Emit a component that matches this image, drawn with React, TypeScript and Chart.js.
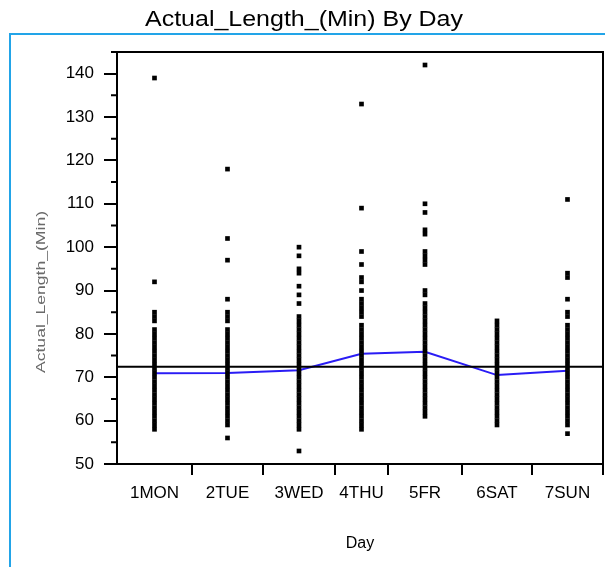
import React, { useEffect, useRef } from 'react';
import { Chart, registerables } from 'chart.js';

Chart.register(...registerables);

// ---------- data ----------
const chartTitle = 'Actual_Length_(Min) By Day';
const yAxisTitle = 'Actual_Length_(Min)';
const xAxisTitle = 'Day';

const dayLabels = ['1MON', '2TUE', '3WED', '4THU', '5FR', '6SAT', '7SUN'];
// relative width of each day's band on the x axis (JMP draws them proportional to group size)
const dayWidths = [75, 71, 72, 53, 74, 70, 71];

const monValues = [139, 92, 85, 84, 83, 81, 80, 79, 78, 77, 76, 75, 74, 73, 72, 71, 70, 69, 68, 67, 66, 65, 64, 63, 62, 61, 60, 59, 58];
const tueValues = [118, 102, 97, 88, 85, 84, 83, 81, 80, 79, 78, 77, 76, 75, 74, 73, 72, 71, 70, 69, 68, 67, 66, 65, 64, 63, 62, 61, 60, 59, 56];
const wedValues = [100, 98, 95, 94, 91, 89, 87, 84, 83, 82, 81, 80, 79, 78, 77, 76, 75, 74, 73, 72, 71, 70, 69, 68, 67, 66, 65, 64, 63, 62, 61, 60, 59, 58, 53];
const thuValues = [133, 109, 99, 96, 93, 92, 90, 88, 87, 86, 85, 84, 82, 81, 80, 79, 78, 77, 76, 75, 74, 73, 72, 71, 70, 69, 68, 67, 66, 65, 64, 63, 62, 61, 60, 59, 58];
const friValues = [142, 110, 108, 104, 103, 99, 98, 97, 96, 90, 89, 87, 86, 85, 84, 83, 82, 81, 80, 79, 78, 77, 76, 75, 74, 73, 72, 71, 70, 69, 68, 67, 66, 65, 64, 63, 62, 61];
const satValues = [83, 82, 81, 80, 79, 78, 77, 76, 75, 74, 73, 72, 71, 70, 69, 68, 67, 66, 65, 64, 63, 62, 61, 60, 59];
const sunValues = [111, 94, 93, 88, 85, 84, 82, 81, 80, 79, 78, 77, 76, 75, 74, 73, 72, 71, 70, 69, 68, 67, 66, 65, 64, 63, 62, 61, 60, 59, 57];

const dayValues = [monValues, tueValues, wedValues, thuValues, friValues, satValues, sunValues];
const dayMeans = [70.9, 71.0, 71.6, 75.4, 75.9, 70.5, 71.5];
const grandMean = 72.4;

const yMin = 50;
const yMax = 145;
const yMinorStep = 5;
const yMajorStep = 10;

// ---------- derived ----------
const boundaries: number[] = [0];
dayWidths.forEach((w, i) => boundaries.push(boundaries[i] + w));
const centers = dayWidths.map((w, i) => boundaries[i] + w / 2);
const xTotal = boundaries[boundaries.length - 1];
const xTickValues = [...boundaries, ...centers].sort((a, b) => a - b);

const near = (a: number, b: number) => Math.abs(a - b) < 1e-6;
const labelFor = (v: number) => {
  const i = centers.findIndex((c) => near(c, v));
  return i >= 0 ? dayLabels[i] : '';
};
const isBoundary = (v: number) => boundaries.some((b) => near(b, v)) && !near(v, 0);

const FONT = '"Liberation Sans", Arial, Helvetica, sans-serif';

const drawStretched = (ctx: any, text: string, x: number, y: number, font: string, width: number, color: string, rotate = 0) => {
  ctx.save();
  ctx.translate(x, y);
  if (rotate) ctx.rotate(rotate);
  ctx.font = font;
  ctx.fillStyle = color;
  const w = ctx.measureText(text).width;
  ctx.scale(width / w, 1);
  ctx.textAlign = 'center';
  ctx.textBaseline = 'middle';
  ctx.fillText(text, 0, 0);
  ctx.restore();
};

const decorPlugin = {
  id: 'decor',
  beforeDraw(chart: any) {
    const { ctx } = chart;
    ctx.save();
    ctx.strokeStyle = '#22a4e8';
    ctx.lineWidth = 2;
    ctx.strokeRect(10, 34, 1200, 1200);
    ctx.restore();
  },
  afterDraw(chart: any) {
    const { ctx, chartArea: a, scales } = chart;
    ctx.save();
    ctx.strokeStyle = '#000';
    ctx.lineWidth = 2;
    ctx.beginPath();
    ctx.moveTo(a.left - 1, a.top);
    ctx.lineTo(a.right, a.top);
    ctx.lineTo(a.right, a.bottom);
    // minor y ticks
    const ys = scales.y;
    ys.ticks.forEach((t: any) => {
      if (t.value % yMajorStep !== 0) {
        const py = ys.getPixelForValue(t.value);
        ctx.moveTo(a.left - 6, py);
        ctx.lineTo(a.left, py);
      }
    });
    ctx.stroke();
    ctx.restore();

    // chart title
    drawStretched(ctx, chartTitle, 304, 20, `22px ${FONT}`, 318, '#000');
    // rotated y axis title
    drawStretched(ctx, yAxisTitle, 41, 292, `13px ${FONT}`, 162, '#6a6a6a', -Math.PI / 2);
  },
};

export default function App() {
  const ref = useRef<HTMLCanvasElement>(null);

  useEffect(() => {
    if (!ref.current) return;
    const points: { x: number; y: number }[] = [];
    dayValues.forEach((vals, i) => vals.forEach((v) => points.push({ x: centers[i], y: v })));

    const chart = new Chart(ref.current, {
      type: 'scatter',
      data: {
        datasets: [
          {
            label: 'Grand mean',
            data: [
              { x: 0, y: grandMean },
              { x: xTotal, y: grandMean },
            ],
            showLine: true,
            borderColor: '#000',
            borderWidth: 2,
            pointRadius: 0,
          },
          {
            label: 'Actual_Length_(Min)',
            data: points,
            pointStyle: 'rect',
            pointRadius: 3.3,
            pointBackgroundColor: '#000',
            pointBorderWidth: 0,
            borderWidth: 0,
          },
          {
            label: 'Means',
            data: dayMeans.map((m, i) => ({ x: centers[i], y: m })),
            showLine: true,
            borderColor: '#2a1cf5',
            borderWidth: 2,
            pointRadius: 0,
          },
        ],
      },
      options: {
        responsive: false,
        animation: false,
        layout: { autoPadding: false, padding: { left: 0, right: 2, top: 52, bottom: 0 } },
        plugins: {
          legend: { display: false },
          tooltip: { enabled: false },
          title: { display: false },
        },
        scales: {
          x: {
            type: 'linear',
            min: 0,
            max: xTotal,
            afterBuildTicks: (s: any) => {
              s.ticks = xTickValues.map((v) => ({ value: v }));
            },
            afterFit: (s: any) => {
              s.height = 103;
              s.paddingLeft = 0;
              s.paddingRight = 0;
            },
            ticks: {
              autoSkip: false,
              maxRotation: 0,
              minRotation: 0,
              color: '#000',
              font: { family: FONT, size: 17 },
              padding: 8,
              callback: (v: any) => labelFor(Number(v)),
            },
            grid: {
              drawOnChartArea: false,
              tickLength: 11,
              lineWidth: 2,
              tickColor: (c: any) => (c.tick && isBoundary(c.tick.value) ? '#000' : 'rgba(0,0,0,0)'),
            },
            border: { display: true, color: '#000', width: 2 },
            title: {
              display: true,
              text: xAxisTitle,
              color: '#000',
              font: { family: FONT, size: 16 },
              padding: { top: 0, bottom: 14 },
            },
          },
          y: {
            type: 'linear',
            min: yMin,
            max: yMax,
            afterFit: (s: any) => {
              s.width = 117;
            },
            ticks: {
              stepSize: yMinorStep,
              autoSkip: false,
              color: '#000',
              font: { family: FONT, size: 17 },
              padding: 10,
              callback: (v: any) => (Number(v) % yMajorStep === 0 ? String(v) : ''),
            },
            grid: {
              drawOnChartArea: false,
              tickLength: 13,
              lineWidth: 2,
              tickColor: (c: any) => (c.tick && c.tick.value % yMajorStep === 0 ? '#000' : 'rgba(0,0,0,0)'),
            },
            border: { display: true, color: '#000', width: 2 },
          },
        },
      },
      plugins: [decorPlugin],
    } as any);
    return () => chart.destroy();
  }, []);

  return (
    <div style={{ position: 'absolute', left: 0, top: 0, width: 605, height: 567, background: '#fff' }}>
      <canvas ref={ref} width={605} height={567} style={{ display: 'block' }} />
    </div>
  );
}
